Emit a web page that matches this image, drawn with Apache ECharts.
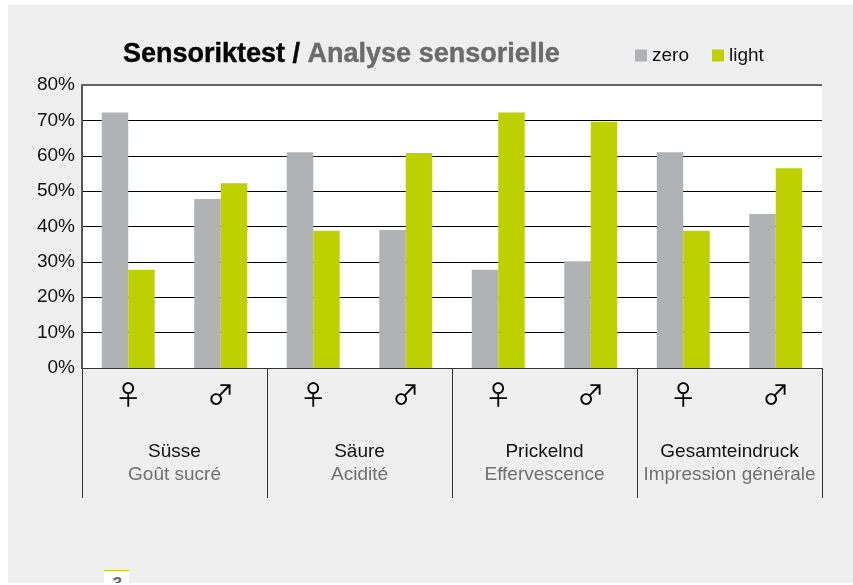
<!DOCTYPE html>
<html>
<head>
<meta charset="utf-8">
<style>
html, body { margin: 0; padding: 0; background: #fff; }
#chart { width: 853px; height: 585px; }
</style>
<script src="https://cdn.jsdelivr.net/npm/echarts@6/dist/echarts.min.js"></script>
</head>
<body>
<div id="chart"></div>
<script>
const genders = ['♀', '♂', '♀', '♂', '♀', '♂', '♀', '♂'];
const groupsDe = ['Süsse', 'Säure', 'Prickelnd', 'Gesamteindruck'];
const groupsFr = ['Goût sucré', 'Acidité', 'Effervescence', 'Impression générale'];
const zero = [72.2, 47.8, 61, 39, 27.8, 30.2, 61, 43.5];
const light = [27.8, 52.2, 38.8, 60.8, 72.2, 69.6, 38.8, 56.5];

const FONT = '"Liberation Sans", Arial, sans-serif';
const GREY = '#b1b2b3';
const GREEN = '#bdd000';

const chart = echarts.init(document.getElementById('chart'), null, { renderer: 'canvas' });

chart.setOption({
    animation: false,
    backgroundColor: '#fff',
    textStyle: { fontFamily: FONT },
    title: {
        text: '{a|Sensoriktest / }{b|Analyse sensorielle}',
        left: 118,
        top: 36,
        textStyle: {
            rich: {
                a: { fontFamily: FONT, fontSize: 27, fontWeight: 'bold', color: '#000', textBorderColor: '#000', textBorderWidth: 0.4 },
                b: { fontFamily: FONT, fontSize: 27, fontWeight: 'bold', color: '#6b6b6b', textBorderColor: '#6b6b6b', textBorderWidth: 0.4 }
            }
        }
    },
    legend: {
        left: 630,
        top: 41,
        itemWidth: 12,
        itemHeight: 12,
        itemGap: 23,
        icon: 'rect',
        textStyle: { fontFamily: FONT, fontSize: 19, color: '#111', padding: [1, 0, 0, 0] },
        data: ['zero', 'light']
    },
    grid: { left: 82, right: 31, top: 85, height: 283, containLabel: false },
    xAxis: [
        {
            type: 'category',
            data: genders,
            axisLine: { show: true, lineStyle: { color: '#333', width: 1 } },
            axisTick: { show: false },
            axisLabel: {
                interval: 0,
                margin: 13,
                fontFamily: '"Noto Sans CJK SC", "DejaVu Sans", sans-serif',
                fontSize: 27,
                color: '#000'
            }
        },
        {
            type: 'category',
            position: 'bottom',
            data: groupsDe,
            axisLine: { show: false },
            axisTick: { show: true, length: 130, lineStyle: { color: '#333', width: 1 } },
            axisLabel: {
                interval: 0,
                margin: 72,
                formatter(value, index) {
                    return '{de|' + value + '}\n{fr|' + groupsFr[index] + '}';
                },
                rich: {
                    de: { fontFamily: FONT, fontSize: 19, color: '#111', lineHeight: 23, align: 'center' },
                    fr: { fontFamily: FONT, fontSize: 19, color: '#707070', lineHeight: 23, align: 'center' }
                }
            }
        }
    ],
    yAxis: {
        type: 'value',
        min: 0,
        max: 80,
        interval: 10,
        axisLine: { show: true, lineStyle: { color: '#555', width: 2 } },
        axisTick: { show: false },
        axisLabel: {
            margin: 7,
            fontFamily: FONT,
            fontSize: 19,
            color: '#111',
            padding: [5, 0, 0, 0],
            formatter: '{value}%'
        },
        splitLine: { show: true, lineStyle: { color: '#000', width: 1 } }
    },
    series: [
        {
            name: 'zero',
            type: 'bar',
            barWidth: 26.5,
            barGap: 0,
            itemStyle: { color: GREY },
            data: zero
        },
        {
            name: 'light',
            type: 'bar',
            barWidth: 26.5,
            barGap: 0,
            itemStyle: { color: GREEN },
            data: light
        }
    ],
    graphic: [
        { type: 'rect', silent: true, z: -10, shape: { x: 8, y: 5, width: 845, height: 578 }, style: { fill: '#efefef' } },
        { type: 'rect', silent: true, z: -9, shape: { x: 82, y: 85, width: 740, height: 283 }, style: { fill: '#fff' } },
        { type: 'rect', silent: true, z: 1, shape: { x: 82, y: 84, width: 740, height: 2 }, style: { fill: '#666' } },
        { type: 'rect', silent: true, z: 1, shape: { x: 104, y: 570, width: 25, height: 15 }, style: { fill: '#fff' } },
        { type: 'rect', silent: true, z: 2, shape: { x: 104, y: 570, width: 25, height: 1 }, style: { fill: GREEN } },
        { type: 'text', silent: true, z: 3, style: { x: 116.5, y: 576, text: '3', align: 'center', font: 'italic bold 18px ' + FONT, fill: '#666' } },
        { type: 'rect', silent: true, z: 4, shape: { x: 0, y: 583, width: 853, height: 2 }, style: { fill: '#fff' } }
    ]
});
</script>
</body>
</html>
